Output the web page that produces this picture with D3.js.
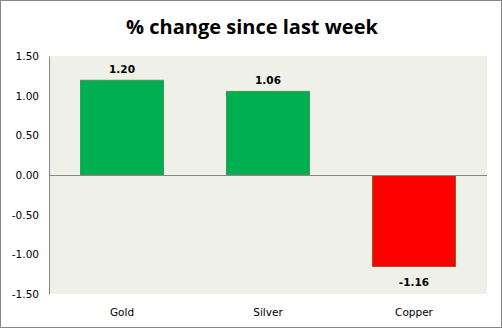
<!DOCTYPE html>
<html><head><meta charset="utf-8">
<script src="https://cdn.jsdelivr.net/npm/d3@7"></script>
<style>body{margin:0;background:#fff}svg{display:block}</style>
</head><body>
<script>
const categories = ["Gold", "Silver", "Copper"];
const values = [1.20, 1.06, -1.16];
const tickValues = [1.5, 1.0, 0.5, 0.0, -0.5, -1.0, -1.5];
const title = "% change since last week";

const fmt = d => d.toFixed(2);
const W = 502, H = 328;
const m = {left: 49, right: 15, top: 56, bottom: 34};
const svg = d3.select("body").append("svg").attr("width", W).attr("height", H);
svg.append("rect").attr("x", 0.5).attr("y", 0.5).attr("width", W - 1).attr("height", H - 1)
  .attr("fill", "#fff").attr("stroke", "#868686");

const x = d3.scaleBand().domain(categories).range([m.left, W - m.right]).paddingInner(0.425).paddingOuter(0.2125);
const y = d3.scaleLinear().domain([-1.5, 1.5]).range([H - m.bottom, m.top]);

svg.append("rect").attr("x", m.left).attr("y", m.top).attr("width", W - m.right - m.left)
  .attr("height", H - m.bottom - m.top).attr("fill", "#EFF0E8");

svg.append("text").attr("x", W / 2 + 1).attr("y", 34).attr("text-anchor", "middle")
  .attr("font-family", "Open Sans, sans-serif").attr("font-weight", "bold").attr("font-size", 20)
  .attr("fill", "#000").text(title);

const yAxis = svg.append("g").attr("transform", `translate(${m.left},0)`)
  .call(d3.axisLeft(y).tickValues(tickValues).tickFormat(fmt).tickSize(0).tickPadding(10));
yAxis.select(".domain").attr("stroke", "#868686");
yAxis.selectAll("text").attr("font-family", "DejaVu Sans, Verdana, sans-serif").attr("font-size", 10.5).attr("fill", "#000");

svg.selectAll("rect.bar").data(values).join("rect").attr("class", "bar")
  .attr("x", (d, i) => x(categories[i]) + 0.5)
  .attr("y", d => y(Math.max(0, d)) + 0.5)
  .attr("width", x.bandwidth() - 1)
  .attr("height", d => Math.abs(y(d) - y(0)) - 1)
  .attr("fill", d => d >= 0 ? "#00B050" : "#FF0000")
  .attr("stroke", d => d >= 0 ? "#3A9A55" : "#A0522D").attr("stroke-width", 1);

svg.append("line").attr("x1", m.left).attr("x2", W - m.right).attr("y1", Math.round(y(0)) + 0.5).attr("y2", Math.round(y(0)) + 0.5)
  .attr("stroke", "#868686");

svg.selectAll("text.val").data(values).join("text").attr("class", "val")
  .attr("x", (d, i) => x(categories[i]) + x.bandwidth() / 2)
  .attr("y", d => d >= 0 ? y(d) - 7 : y(d) + 19)
  .attr("text-anchor", "middle").attr("font-family", "DejaVu Sans, Verdana, sans-serif")
  .attr("font-weight", "bold").attr("font-size", 10.5).attr("fill", "#000")
  .text(fmt);

svg.selectAll("text.cat").data(categories).join("text").attr("class", "cat")
  .attr("x", d => x(d) + x.bandwidth() / 2).attr("y", H - 12)
  .attr("text-anchor", "middle").attr("font-family", "DejaVu Sans, Verdana, sans-serif")
  .attr("font-size", 10.5).attr("fill", "#000").text(d => d);
</script>
</body></html>
